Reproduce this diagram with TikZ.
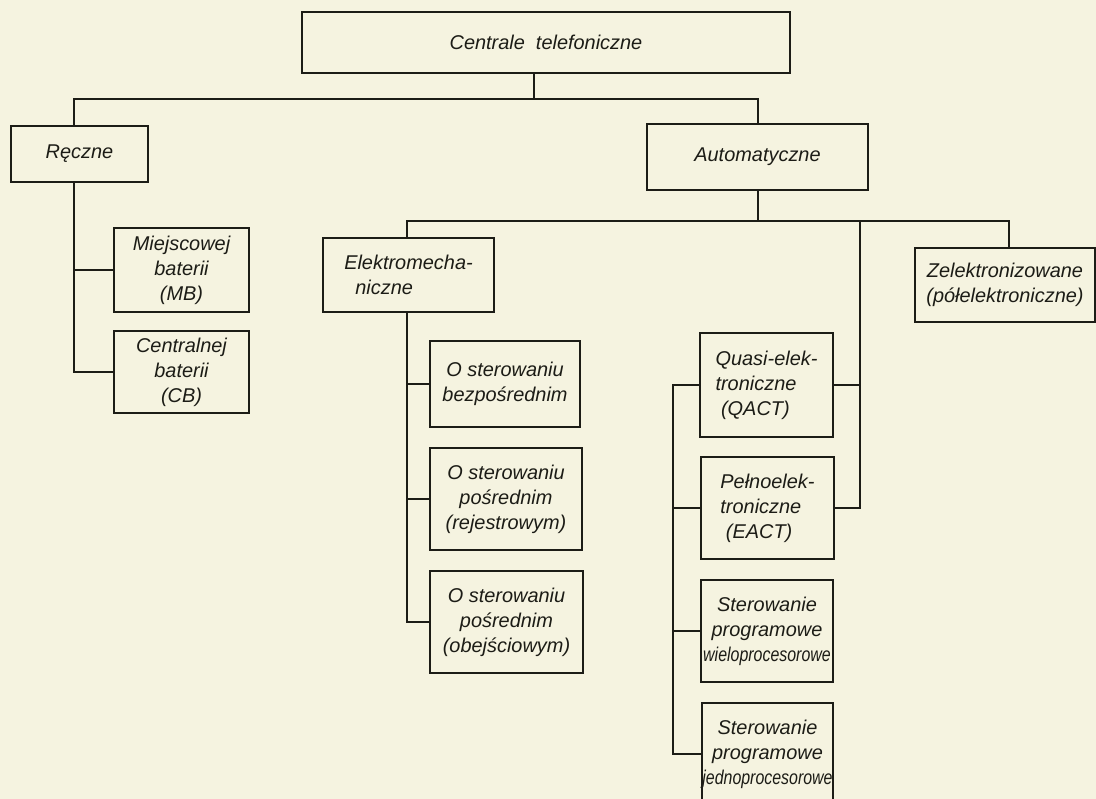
\documentclass[tikz,border=0pt]{standalone}
\usepackage{fontspec}
\setmainfont{Liberation Sans}
\usepackage{graphicx}
\definecolor{paper}{RGB}{245,243,224}
\definecolor{ink}{RGB}{28,28,22}
\begin{document}
\begin{tikzpicture}[x=1bp,y=-1bp,
  box/.style={draw=ink, line width=1.8bp, inner sep=0pt, text=ink,
    font=\itshape\fontsize{20}{25}\selectfont, align=center},
  conn/.style={draw=ink, line width=1.8bp, line join=miter}]
\fill[paper] (0,0) rectangle (1096,799);
\useasboundingbox (0,0) rectangle (1096,799);
\clip (0,0) rectangle (1096,799);

% boxes
\node[box, minimum width=488bp, minimum height=61bp] (top) at (546,42.5) {Centrale\ \ telefoniczne};
\node[box, minimum width=137bp, minimum height=56bp] (reczne) at (79.5,154) {Ręczne};
\node[box, minimum width=135bp, minimum height=84bp] (mb) at (181.5,270) {Miejscowej\\baterii\\(MB)};
\node[box, minimum width=135bp, minimum height=82bp] (cb) at (181.5,372) {Centralnej\\baterii\\(CB)};
\node[box, minimum width=221bp, minimum height=66bp] (auto) at (757.5,157) {Automatyczne};
\node[box, minimum width=171bp, minimum height=74bp, align=left] (elektro) at (408.5,275) {Elektromecha-\\\ \ niczne};
\node[box, minimum width=180bp, minimum height=74bp] (zel) at (1005,285) {Zelektronizowane\\(półelektroniczne)};
\node[box, minimum width=150bp, minimum height=86bp] (bezp) at (505,384) {O sterowaniu\\bezpośrednim};
\node[box, minimum width=152bp, minimum height=102bp] (rej) at (506,499) {O sterowaniu\\pośrednim\\(rejestrowym)};
\node[box, minimum width=153bp, minimum height=102bp] (obe) at (506.5,622) {O sterowaniu\\pośrednim\\(obejściowym)};
\node[box, minimum width=133bp, minimum height=104bp, align=left] (qact) at (766.5,385) {Quasi-elek-\\troniczne\\\ (QACT)};
\node[box, minimum width=133bp, minimum height=102bp, align=left] (eact) at (767.5,508) {Pełnoelek-\\troniczne\\\ (EACT)};
\node[box, minimum width=132bp, minimum height=102bp] (wielo) at (767,631) {Sterowanie\\programowe\\\scalebox{0.8}[1]{wieloprocesorowe}};
\node[box, minimum width=131bp, minimum height=102bp] (jedno) at (767.5,754) {Sterowanie\\programowe\\\scalebox{0.8}[1]{jednoprocesorowe}};

% junction coordinates
\coordinate (j1) at (534,99);
\coordinate (l1) at (74,99);
\coordinate (r1) at (758,99);
\coordinate (j2) at (758,221);
\coordinate (l2) at (407,221);
\coordinate (m2) at (860,221);
\coordinate (r2) at (1009,221);
\coordinate (l3) at (673,385);

% level 1
\draw[conn] (top.south -| j1) -- (j1);
\draw[conn] (reczne.north -| l1) -- (l1) -- (r1) -- (auto.north -| r1);
% Reczne children
\draw[conn] (reczne.south -| l1) |- (cb.west);
\draw[conn] (mb.west) -- (mb.west -| l1);
% Automatyczne
\draw[conn] (auto.south -| j2) -- (j2);
\draw[conn] (elektro.north -| l2) -- (l2) -- (r2) -- (zel.north -| r2);
\draw[conn] (m2) |- (eact.east);
\draw[conn] (qact.east) -- (qact.east -| m2);
% Elektromechaniczne children
\draw[conn] (elektro.south -| l2) |- (obe.west);
\draw[conn] (bezp.west) -- (bezp.west -| l2);
\draw[conn] (rej.west) -- (rej.west -| l2);
% electronic children
\draw[conn] (qact.west) -- (l3) |- (jedno.west);
\draw[conn] (eact.west) -- (eact.west -| l3);
\draw[conn] (wielo.west) -- (wielo.west -| l3);
\end{tikzpicture}
\end{document}
